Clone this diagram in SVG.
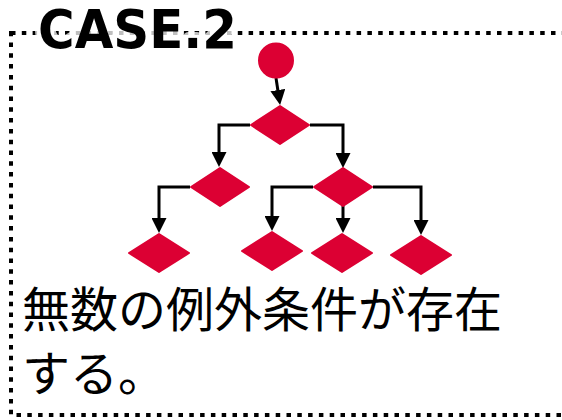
<svg xmlns="http://www.w3.org/2000/svg" width="562" height="420" viewBox="0 0 562 420">
  <style>
    .node { fill: #DC0033; stroke: #DC0033; stroke-width: 2; stroke-linejoin: round; }
    .conn { fill: none; stroke: #000; stroke-width: 3; stroke-linejoin: miter; }
    .frame { fill: none; stroke: #000; stroke-width: 4; stroke-dasharray: 4.5 6.3; }
    .title { font-family: "DejaVu Sans", "Liberation Sans", sans-serif; font-weight: bold; font-size: 54px; fill: #000; stroke: #fff; stroke-opacity: 0.75; stroke-width: 12; stroke-linejoin: round; paint-order: stroke; }
    .body { font-family: "Noto Sans CJK JP", "Noto Sans", sans-serif; font-size: 48px; fill: #000; }
  </style>
  <defs>
    <marker id="arr" viewBox="0 0 15 15" refX="5" refY="7.5" markerWidth="15" markerHeight="15" markerUnits="userSpaceOnUse" orient="auto">
      <path d="M0,0 L15,7.5 L0,15 z" fill="#000"/>
    </marker>
  </defs>
  <rect id="frame" class="frame" x="11" y="33" width="570" height="382"/>
  <text id="title" class="title" x="38" y="48" textLength="199" lengthAdjust="spacingAndGlyphs">CASE.2</text>
  <g id="connectors">
    <polyline class="conn" points="276,78 278.6,95" marker-end="url(#arr)"/>
    <polyline class="conn" points="250,125 219,125 219,157" marker-end="url(#arr)"/>
    <polyline class="conn" points="310,125 343,125 343,158" marker-end="url(#arr)"/>
    <polyline class="conn" points="190,187 159,187 159,223" marker-end="url(#arr)"/>
    <polyline class="conn" points="313,187 272,187 272,221" marker-end="url(#arr)"/>
    <polyline class="conn" points="343,206 343,223" marker-end="url(#arr)"/>
    <polyline class="conn" points="373,187 421,187 421,225" marker-end="url(#arr)"/>
  </g>
  <g id="start"><circle class="node" cx="276" cy="60.5" r="17"/></g>
  <g id="d1"><polygon class="node" points="280,106 309,125 280,144 251,125"/></g>
  <g id="d2l"><polygon class="node" points="220,168 249,187 220,206 191,187"/></g>
  <g id="d2r"><polygon class="node" points="343,168 372,187 343,206 314,187"/></g>
  <g id="d3a"><polygon class="node" points="159,234 189,253 159,272 129,253"/></g>
  <g id="d3b"><polygon class="node" points="272,232 302,251 272,270 242,251"/></g>
  <g id="d3c"><polygon class="node" points="342,234 372,253 342,272 312,253"/></g>
  <g id="d3d"><polygon class="node" points="421,236 451,255 421,274 391,255"/></g>
  <text class="body" x="22" y="327">無数の例外条件が存在</text>
  <text class="body" x="22" y="391">する。</text>
</svg>
